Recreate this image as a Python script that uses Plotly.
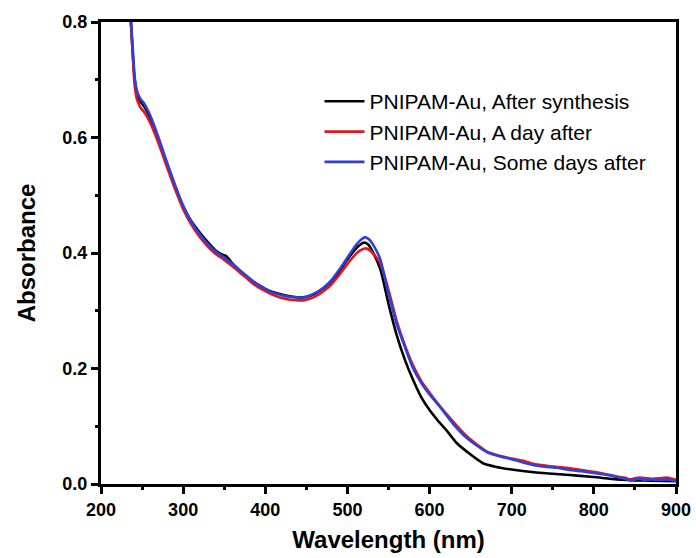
import plotly.graph_objects as go

# Wavelength (nm) and absorbance
wl_black = [233, 236, 238, 241, 244, 248, 252, 256, 260, 270, 280, 290, 300, 310, 320, 330, 340,
            348, 352, 356, 360, 370, 380, 390, 400, 410, 420, 430, 440, 450, 460, 470, 480, 490,
            500, 510, 515, 520, 525, 530, 540, 550, 560, 570, 580, 590, 600, 610, 620, 633, 650,
            665, 680, 700, 730, 767, 800, 828, 860, 900]
abs_black = [0.88, 0.81, 0.76, 0.70, 0.675, 0.662, 0.655, 0.645, 0.633, 0.595, 0.556, 0.517, 0.480,
             0.455, 0.436, 0.419, 0.404, 0.397, 0.395, 0.389, 0.382, 0.368, 0.356, 0.346, 0.338,
             0.332, 0.328, 0.325, 0.323, 0.324, 0.329, 0.338, 0.350, 0.368, 0.389, 0.407, 0.414,
             0.418, 0.415, 0.404, 0.372, 0.312, 0.258, 0.215, 0.180, 0.150, 0.128, 0.110, 0.094,
             0.071, 0.051, 0.036, 0.030, 0.025, 0.020, 0.016, 0.012, 0.008, 0.006, 0.005]

wl_red = [233, 236, 238, 241, 244, 248, 252, 256, 260, 270, 280, 290, 300, 310, 320, 330, 340,
          350, 360, 370, 380, 390, 400, 410, 420, 430, 440, 446, 450, 460, 470, 480, 490, 500,
          510, 515, 522, 527, 532, 540, 550, 560, 570, 580, 590, 600, 613, 630, 645, 658, 670,
          685, 700, 715, 726, 745, 767, 785, 800, 815, 828, 838, 844, 850, 856, 863, 870, 880,
          889, 895, 900]
abs_red = [0.88, 0.81, 0.76, 0.69, 0.665, 0.652, 0.645, 0.636, 0.625, 0.590, 0.550, 0.511, 0.476,
           0.449, 0.428, 0.411, 0.398, 0.388, 0.377, 0.365, 0.353, 0.342, 0.334, 0.327, 0.322,
           0.319, 0.318, 0.318, 0.319, 0.324, 0.333, 0.345, 0.362, 0.381, 0.398, 0.404, 0.408,
           0.405, 0.398, 0.382, 0.336, 0.282, 0.240, 0.205, 0.178, 0.158, 0.134, 0.106, 0.083,
           0.068, 0.056, 0.049, 0.044, 0.040, 0.035, 0.031, 0.028, 0.024, 0.021, 0.017, 0.013,
           0.011, 0.008, 0.010, 0.011, 0.010, 0.009, 0.010, 0.011, 0.009, 0.007]

wl_blue = [233, 236, 238, 241, 244, 248, 252, 256, 260, 270, 280, 290, 300, 310, 320, 330, 340,
           350, 360, 370, 380, 390, 400, 410, 420, 430, 440, 446, 450, 460, 470, 480, 490, 500,
           510, 515, 521, 526, 531, 540, 550, 560, 570, 580, 590, 600, 613, 630, 645, 660, 670,
           685, 700, 710, 726, 740, 755, 767, 785, 800, 815, 828, 838, 844, 850, 856, 863, 870,
           880, 889, 895, 900]
abs_blue = [0.88, 0.81, 0.77, 0.705, 0.680, 0.667, 0.660, 0.650, 0.638, 0.600, 0.558, 0.518, 0.482,
            0.454, 0.433, 0.416, 0.402, 0.392, 0.381, 0.369, 0.357, 0.346, 0.338, 0.331, 0.327,
            0.324, 0.323, 0.323, 0.324, 0.330, 0.339, 0.352, 0.371, 0.392, 0.413, 0.421, 0.427,
            0.424, 0.415, 0.389, 0.330, 0.277, 0.237, 0.200, 0.175, 0.155, 0.133, 0.102, 0.080,
            0.064, 0.055, 0.048, 0.043, 0.039, 0.033, 0.030, 0.028, 0.025, 0.022, 0.019, 0.016,
            0.012, 0.009, 0.006, 0.008, 0.009, 0.007, 0.008, 0.007, 0.008, 0.006, 0.005]

names = ["PNIPAM-Au, After synthesis", "PNIPAM-Au, A day after", "PNIPAM-Au, Some days after"]
colors = ["#000000", "#E4161D", "#2F3FDA"]

fig = go.Figure()
for x, y, n, c in zip([wl_black, wl_red, wl_blue], [abs_black, abs_red, abs_blue], names, colors):
    fig.add_trace(go.Scatter(x=x, y=y, mode="lines", name=n,
                             line=dict(color=c, width=2.6, shape="spline", smoothing=0.6)))

FAM = "Liberation Sans, Arial, sans-serif"
tick_font = dict(family=FAM, size=18, color="black", weight="bold")
title_font = dict(family=FAM, size=24, color="black", weight="bold")

fig.update_xaxes(range=[200, 900], dtick=100, tick0=200, showline=True, linecolor="black",
                 linewidth=3, mirror=True, ticks="outside", ticklen=7, tickwidth=2.5,
                 tickcolor="black", showgrid=False, zeroline=False, tickfont=tick_font,
                 automargin=False,
                 minor=dict(dtick=50, ticks="outside", ticklen=3, tickwidth=2.5, tickcolor="black"),
                 title=dict(text="Wavelength (nm)", standoff=13, font=title_font))
fig.update_yaxes(range=[0, 0.8], dtick=0.2, tickformat=".1f", showline=True, linecolor="black",
                 linewidth=3, mirror=True, ticks="outside", ticklen=7, tickwidth=2.5,
                 tickcolor="black", showgrid=False, zeroline=False, tickfont=tick_font,
                 automargin=False,
                 minor=dict(dtick=0.1, ticks="outside", ticklen=3, tickwidth=2.5, tickcolor="black"),
                 title=dict(text="Absorbance", standoff=20, font=title_font))

fig.update_layout(
    width=696, height=558,
    margin=dict(l=101, r=20, t=22, b=74),
    paper_bgcolor="white", plot_bgcolor="white",
    legend=dict(x=0.38, y=0.872, xanchor="left", yanchor="top", bgcolor="rgba(0,0,0,0)",
                font=dict(family=FAM, size=21, color="black"),
                tracegroupgap=0, itemwidth=40),
)

fig.write_html("out.html")
